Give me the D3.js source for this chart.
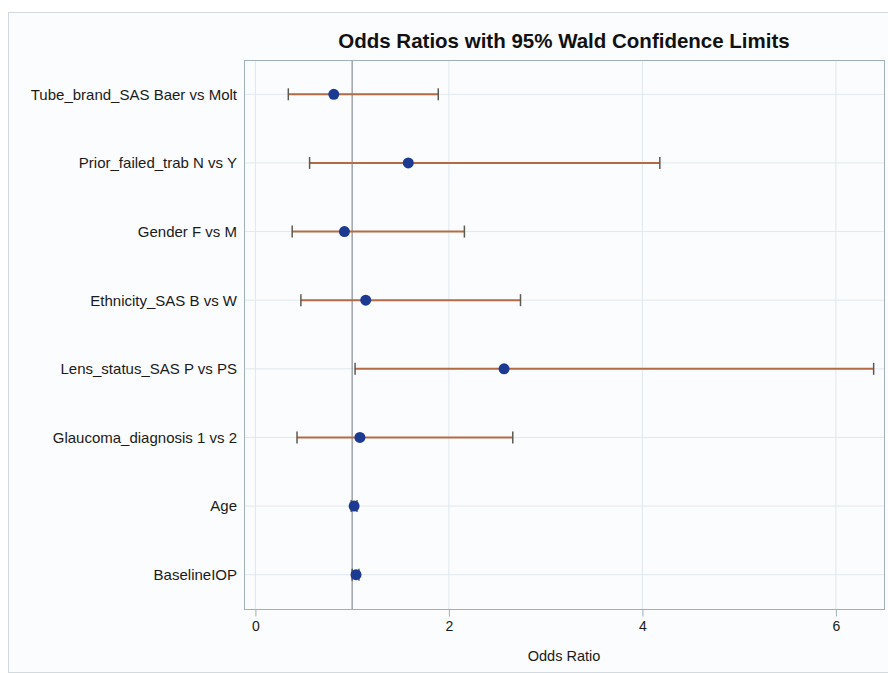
<!DOCTYPE html>
<html>
<head>
<meta charset="utf-8">
<script src="https://cdn.jsdelivr.net/npm/d3@7"></script>
<style>
  body { margin: 0; background: #fff; }
  svg { display: block; font-family: "Liberation Sans", Arial, sans-serif; }
</style>
</head>
<body>
<svg id="chart"></svg>
<script>
"use strict";

const width = 888;
const height = 673;

// effects, top to bottom
const effects = [
  "Tube_brand_SAS Baer vs Molt",
  "Prior_failed_trab N vs Y",
  "Gender F vs M",
  "Ethnicity_SAS B vs W",
  "Lens_status_SAS P vs PS",
  "Glaucoma_diagnosis 1 vs 2",
  "Age",
  "BaselineIOP"
];
const estimates = [0.81, 1.58, 0.92, 1.14, 2.57, 1.08, 1.02, 1.04];
const lowerCL = [0.34, 0.56, 0.38, 0.47, 1.03, 0.43, 0.99, 1.00];
const upperCL = [1.89, 4.18, 2.16, 2.74, 6.39, 2.66, 1.05, 1.07];
const xTicks = [0, 2, 4, 6];

const margin = { top: 60, right: 4, bottom: 64, left: 244 };

const svg = d3.select("#chart")
  .attr("width", width)
  .attr("height", height);

// outer frame
svg.append("rect")
  .attr("x", 8.5).attr("y", 12.5)
  .attr("width", width).attr("height", 660)
  .attr("fill", "#fbfcfd")
  .attr("stroke", "#d3dadf");

const x = d3.scaleLinear()
  .domain([-0.118, 6.497])
  .range([margin.left, width - margin.right]);

const y = d3.scaleBand()
  .domain(effects)
  .range([margin.top, height - margin.bottom]);

const plotH = height - margin.bottom - margin.top;

// gridlines
svg.append("g")
  .selectAll("line.vgrid")
  .data(xTicks)
  .join("line")
  .attr("x1", d => x(d)).attr("x2", d => x(d))
  .attr("y1", margin.top).attr("y2", height - margin.bottom)
  .attr("stroke", "#e1e8ee");

svg.append("g")
  .selectAll("line.hgrid")
  .data(effects)
  .join("line")
  .attr("x1", margin.left).attr("x2", width - margin.right)
  .attr("y1", d => y(d) + y.bandwidth() / 2)
  .attr("y2", d => y(d) + y.bandwidth() / 2)
  .attr("stroke", "#e1e8ee");

// reference line at 1
svg.append("line")
  .attr("x1", x(1)).attr("x2", x(1))
  .attr("y1", margin.top).attr("y2", height - margin.bottom)
  .attr("stroke", "#8f979d")
  .attr("stroke-width", 1.3);

// plot frame
svg.append("rect")
  .attr("x", margin.left + 0.5).attr("y", margin.top + 0.5)
  .attr("width", width - margin.right - margin.left)
  .attr("height", plotH)
  .attr("fill", "none")
  .attr("stroke", "#9fb0ba");

// x axis
const xAxis = svg.append("g")
  .attr("transform", `translate(0,${height - margin.bottom + 0.5})`)
  .call(d3.axisBottom(x).tickValues(xTicks).tickSize(7).tickPadding(5).tickFormat(d3.format("d")));
xAxis.select(".domain").remove();
xAxis.selectAll(".tick line").attr("stroke", "#9fb0ba");
xAxis.selectAll(".tick text").attr("fill", "#1a1a1a").style("font-size", "14px");

svg.append("text")
  .attr("x", (margin.left + width - margin.right) / 2)
  .attr("y", 661)
  .attr("text-anchor", "middle")
  .attr("fill", "#1a1a1a")
  .style("font-size", "14.5px")
  .text("Odds Ratio");

// y labels
svg.append("g")
  .selectAll("text")
  .data(effects)
  .join("text")
  .attr("x", margin.left - 7)
  .attr("y", d => y(d) + y.bandwidth() / 2)
  .attr("dy", "0.36em")
  .attr("text-anchor", "end")
  .attr("fill", "#1a1a1a")
  .style("font-size", "15px")
  .text(d => d);

// title
svg.append("text")
  .attr("x", (margin.left + width - margin.right) / 2)
  .attr("y", 48)
  .attr("text-anchor", "middle")
  .attr("fill", "#111")
  .style("font-size", "20.5px")
  .style("font-weight", "bold")
  .text("Odds Ratios with 95% Wald Confidence Limits");

// error bars
const rows = effects.map((e, i) => ({ e, est: estimates[i], lo: lowerCL[i], hi: upperCL[i] }));
const bars = svg.append("g").selectAll("g").data(rows).join("g")
  .attr("transform", d => `translate(0,${y(d.e) + y.bandwidth() / 2})`);

bars.append("line")
  .attr("x1", d => x(d.lo)).attr("x2", d => x(d.hi))
  .attr("stroke", "#b36a45")
  .attr("stroke-width", 2);

bars.selectAll("line.cap")
  .data(d => [d.lo, d.hi])
  .join("line")
  .attr("class", "cap")
  .attr("x1", d => x(d)).attr("x2", d => x(d))
  .attr("y1", -6).attr("y2", 6)
  .attr("stroke", "#5d5a50")
  .attr("stroke-width", 1.5);

bars.append("circle")
  .attr("cx", d => x(d.est))
  .attr("r", 5.5)
  .attr("fill", "#1d3a92");
</script>
</body>
</html>
